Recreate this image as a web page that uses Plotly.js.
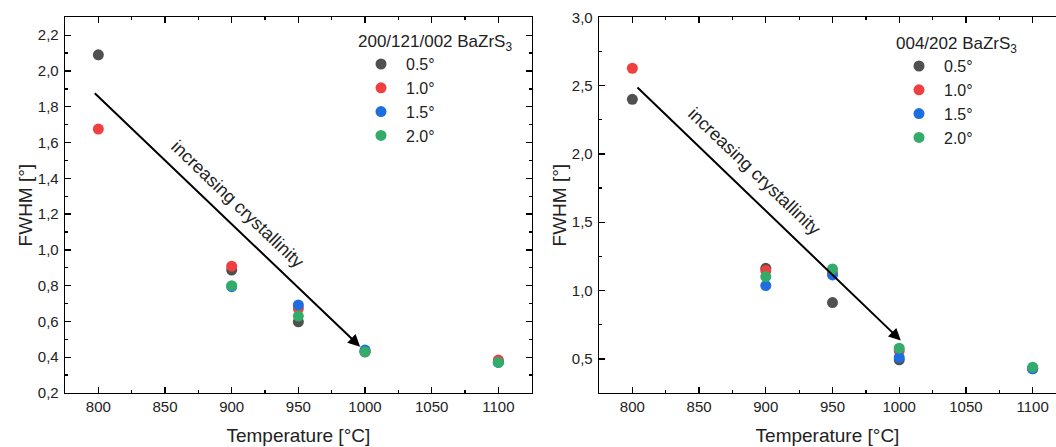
<!DOCTYPE html>
<html>
<head>
<meta charset="utf-8">
<script src="https://cdn.plot.ly/plotly-3.0.1.min.js"></script>
<style>html,body{margin:0;padding:0;background:#fff;}#chart{width:1056px;height:447px;}</style>
</head>
<body>
<div id="chart"></div>
<script>
// Temperatures (°C)
const temps = [800, 900, 950, 1000, 1100];
const seriesNames = ['0.5°', '1.0°', '1.5°', '2.0°'];
const seriesColors = ['#505050', '#ef3f3f', '#1f6ee0', '#34ac69'];

// Left panel: 200/121/002 BaZrS3 FWHM [°]
const left_05 = [2.09, 0.887, 0.598, 0.43, 0.375];
const left_10 = [1.675, 0.909, 0.673, 0.43, 0.384];
const left_15 = [null, 0.794, 0.692, 0.44, 0.371];
const left_20 = [null, 0.80, 0.63, 0.43, 0.371];

// Right panel: 004/202 BaZrS3 FWHM [°]
const right_05 = [2.40, 1.163, 0.912, 0.493, 0.43];
const right_10 = [2.627, 1.146, 1.13, 0.56, 0.43];
const right_15 = [null, 1.036, 1.114, 0.51, 0.427];
const right_20 = [null, 1.102, 1.158, 0.578, 0.439];

const leftTitle = '200/121/002 BaZrS<sub>3</sub>';
const rightTitle = '004/202 BaZrS<sub>3</sub>';
const arrowText = 'increasing crystallinity';

const FONT = 'Arial, "Liberation Sans", sans-serif';
const leftSeries = [left_05, left_10, left_15, left_20];
const rightSeries = [right_05, right_10, right_15, right_20];

const traces = [];
leftSeries.forEach((ys, i) => traces.push({
  x: temps, y: ys, type: 'scatter', mode: 'markers', name: seriesNames[i],
  marker: {color: seriesColors[i], size: 11}, xaxis: 'x', yaxis: 'y', legend: 'legend'
}));
rightSeries.forEach((ys, i) => traces.push({
  x: temps, y: ys, type: 'scatter', mode: 'markers', name: seriesNames[i],
  marker: {color: seriesColors[i], size: 11}, xaxis: 'x2', yaxis: 'y2', legend: 'legend2'
}));

const W = 1056, H = 447;
const yDom = [(H - 393) / H, (H - 17.3) / H];
const tickFont = {family: FONT, size: 15, color: '#222'};
const titleFont = {family: FONT, size: 19, color: '#222'};
const legFont = {family: FONT, size: 16, color: '#222'};
const legTitleFont = {family: FONT, size: 17, color: '#222'};

function xAxis(domain, range, anchor) {
  return {
    domain: domain, range: range, anchor: anchor,
    tickvals: [800, 850, 900, 950, 1000, 1050, 1100],
    ticks: 'inside', ticklen: 6, tickwidth: 1.3, tickcolor: '#000',
    minor: {dtick: 25, tick0: 800, ticks: 'inside', ticklen: 3, tickwidth: 1.3, tickcolor: '#000'},
    showline: true, linecolor: '#000', linewidth: 1.3, mirror: 'ticks',
    showgrid: false, zeroline: false, tickfont: tickFont,
    title: {text: 'Temperature [°C]', font: titleFont, standoff: 14}
  };
}

function yAxis(range, vals, minorStep, anchor, mirror) {
  return {
    domain: yDom, range: range, anchor: anchor,
    tickvals: vals, tickformat: '.1f',
    ticks: 'inside', ticklen: 6, tickwidth: 1.3, tickcolor: '#000',
    minor: {dtick: minorStep, tick0: range[0], ticks: 'inside', ticklen: 3, tickwidth: 1.3, tickcolor: '#000'},
    showline: true, linecolor: '#000', linewidth: 1.3, mirror: mirror,
    showgrid: false, zeroline: false, tickfont: tickFont, ticklabelstandoff: 2,
    title: {text: 'FWHM [°]', font: titleFont, standoff: 0}
  };
}

const layout = {
  width: W, height: H,
  margin: {l: 0, r: 0, t: 0, b: 0},
  paper_bgcolor: '#fff', plot_bgcolor: '#fff',
  separators: ', ',
  font: {family: FONT, color: '#222'},
  showlegend: true,
  xaxis: xAxis([65 / W, 531.7 / W], [775, 1125], 'y'),
  yaxis: yAxis([0.2, 2.3], [0.2, 0.4, 0.6, 0.8, 1.0, 1.2, 1.4, 1.6, 1.8, 2.0, 2.2], 0.1, 'x', 'ticks'),
  xaxis2: xAxis([599 / W, 1], [775, 1117.5], 'y2'),
  yaxis2: yAxis([0.25, 3.0], [0.5, 1.0, 1.5, 2.0, 2.5, 3.0], 0.25, 'x2', false),
  legend: {
    x: 356 / W, y: (H - 25) / H, xanchor: 'left', yanchor: 'top',
    bgcolor: 'rgba(0,0,0,0)', font: legFont,
    title: {text: leftTitle, font: legTitleFont},
    tracegroupgap: 0, itemwidth: 40
  },
  legend2: {
    x: 894 / W, y: (H - 27) / H, xanchor: 'left', yanchor: 'top',
    bgcolor: 'rgba(0,0,0,0)', font: legFont,
    title: {text: rightTitle, font: legTitleFont},
    tracegroupgap: 0, itemwidth: 40
  },
  annotations: [
    {xref: 'x', yref: 'y', axref: 'x', ayref: 'y', x: 996.3, y: 0.459, ax: 796.2, ay: 1.883,
     showarrow: true, arrowhead: 2, arrowsize: 1.2, arrowwidth: 2, arrowcolor: '#000', text: ''},
    {xref: 'x', yref: 'y', x: 904.2, y: 1.256, text: arrowText, showarrow: false, textangle: 43.7,
     font: {family: FONT, size: 18, color: '#222'}},
    {xref: 'x2', yref: 'y2', axref: 'x2', ayref: 'y2', x: 1001.2, y: 0.634, ax: 802.7, ay: 2.497,
     showarrow: true, arrowhead: 2, arrowsize: 1.2, arrowwidth: 2, arrowcolor: '#000', text: ''},
    {xref: 'x2', yref: 'y2', x: 891.2, y: 1.875, text: arrowText, showarrow: false, textangle: 43.7,
     font: {family: FONT, size: 18, color: '#222'}}
  ]
};

Plotly.newPlot('chart', traces, layout, {displayModeBar: false, staticPlot: true});
</script>
</body>
</html>
